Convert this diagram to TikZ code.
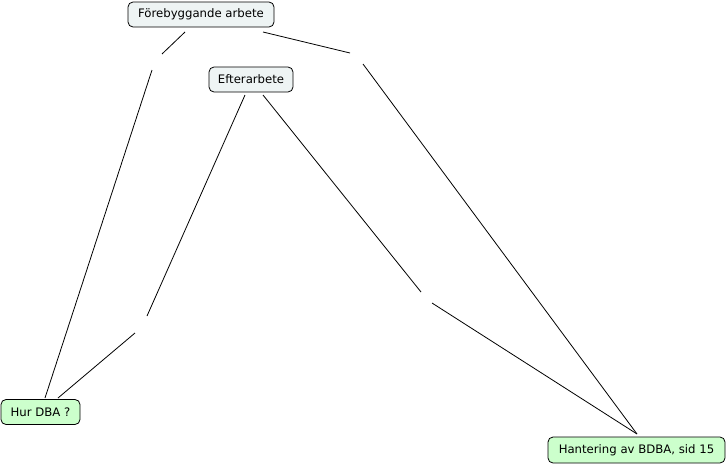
\documentclass[tikz,border=0pt]{standalone}
\usepackage{fontspec}
\setmainfont{DejaVu Sans}
\definecolor{topfill}{RGB}{238,244,244}
\definecolor{greenfill}{RGB}{204,255,204}
\begin{document}
\begin{tikzpicture}[x=1pt,y=-1pt,
  concept/.style={draw=black, line width=0.8pt, rounded corners=5pt, inner sep=0pt,
    font=\fontsize{11.7}{14}\selectfont, anchor=center},
  topbox/.style={concept, fill=topfill},
  greenbox/.style={concept, fill=greenfill},
  link/.style={line width=0.8pt, draw=black}]
\useasboundingbox (0,0) rectangle (728,466);
\node[topbox, minimum width=146pt, minimum height=25pt] (f) at (201,14.5) {Förebyggande arbete};
\node[topbox, minimum width=84pt, minimum height=25pt] (e) at (251,79.5) {Efterarbete};
\node[greenbox, minimum width=79pt, minimum height=25pt] (d) at (40.5,412) {Hur DBA ?};
\node[greenbox, minimum width=177pt, minimum height=26pt] (h) at (636.5,450) {Hantering av BDBA, sid 15};
% connector end points (gaps where empty link labels sit)
\coordinate (f1) at (185,32);  \coordinate (l1a) at (162,54);
\coordinate (l1b) at (152,70); \coordinate (d1) at (45,398);
\coordinate (f2) at (263,32);  \coordinate (l2a) at (350,53);
\coordinate (l2b) at (363,64); \coordinate (h2) at (637,434);
\coordinate (e3) at (245,95);  \coordinate (l3a) at (147,316);
\coordinate (l3b) at (135,333);\coordinate (d3) at (58,398);
\coordinate (e4) at (263,95);  \coordinate (l4a) at (421,292);
\coordinate (l4b) at (432,303);\coordinate (h4) at (637,434);
\draw[link] (f1) -- (l1a);
\draw[link] (l1b) -- (d1);
\draw[link] (f2) -- (l2a);
\draw[link] (l2b) -- (h2);
\draw[link] (e3) -- (l3a);
\draw[link] (l3b) -- (d3);
\draw[link] (e4) -- (l4a);
\draw[link] (l4b) -- (h4);
\end{tikzpicture}
\end{document}
